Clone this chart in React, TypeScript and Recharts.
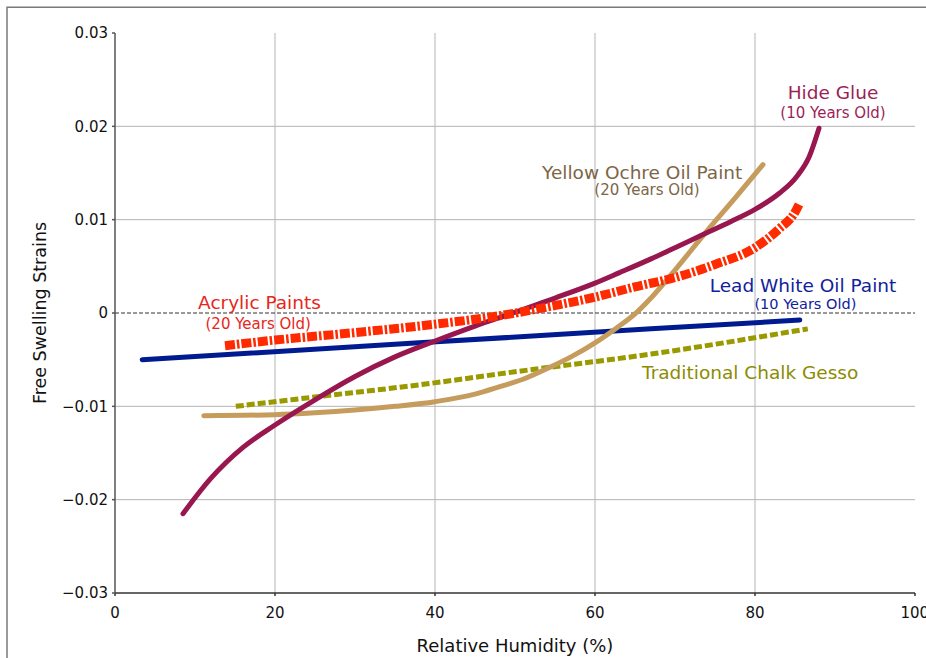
import React from "react";
import { LineChart, Line, XAxis, YAxis, ReferenceLine, ReferenceDot, ReferenceArea } from "recharts";

const xTicks = [0, 20, 40, 60, 80, 100];
const yTicks = [-0.03, -0.02, -0.01, 0, 0.01, 0.02, 0.03];
const gridX = [20, 40, 60, 80];
const gridY = [-0.02, -0.01, 0.01, 0.02];

const glueX = [8.5, 12, 16, 20, 25, 30, 35, 40, 45, 49.4, 55, 60, 63, 67, 70, 73.5, 77, 80, 83, 85.2, 86.8, 88];
const glueY = [-0.0215, -0.0177, -0.0144, -0.012, -0.0093, -0.0068, -0.0047, -0.003, -0.0014, -0.0001, 0.0016, 0.0032, 0.0043, 0.0058, 0.007, 0.0084, 0.0098, 0.0111, 0.0128, 0.0146, 0.0168, 0.0198];

const ochreX = [11.1, 20, 25, 30, 35, 40, 45, 48.1, 51, 54.4, 57, 60, 62.7, 65, 67, 70, 74, 77.5, 81];
const ochreY = [-0.011, -0.0109, -0.0107, -0.0104, -0.01, -0.0095, -0.0087, -0.0079, -0.0071, -0.0058, -0.0047, -0.0032, -0.0016, -0.0001, 0.0016, 0.0046, 0.0088, 0.0123, 0.0159];

const acrylicX = [13.75, 20, 30, 40, 48, 55, 60, 65, 70, 75, 80, 83, 85, 85.6];
const acrylicY = [-0.0035, -0.0029, -0.0021, -0.0012, -0.0003, 0.0008, 0.0017, 0.0028, 0.0038, 0.0052, 0.007, 0.009, 0.0108, 0.0118];

const leadX = [3.4, 38, 67, 85.6];
const leadY = [-0.005, -0.0032, -0.0017, -0.00075];

const gessoX = [15.1, 25, 38, 50, 67, 86.6];
const gessoY = [-0.01, -0.009, -0.0077, -0.0063, -0.0044, -0.0017];

const toRows = (xs: number[], ys: number[]) => xs.map((x, i) => ({ x, y: ys[i] }));

const FONT = "'DejaVu Sans', Verdana, sans-serif";

const annotations = [
  { x: 89.75, y: 0.0236, text: "Hide Glue", color: "#9c1f56", size: 18.5 },
  { x: 89.75, y: 0.0214, text: "(10 Years Old)", color: "#9c1f56", size: 15 },
  { x: 65.9, y: 0.0151, text: "Yellow Ochre Oil Paint", color: "#7d6645", size: 18.5 },
  { x: 66.5, y: 0.0132, text: "(20 Years Old)", color: "#7d6645", size: 15 },
  { x: 18.06, y: 0.0011, text: "Acrylic Paints", color: "#e8261a", size: 18.5 },
  { x: 17.9, y: -0.0012, text: "(20 Years Old)", color: "#e8261a", size: 15 },
  { x: 86, y: 0.0029, text: "Lead White Oil Paint", color: "#10229a", size: 18.5 },
  { x: 86.3, y: 0.00096, text: "(10 Years Old)", color: "#10229a", size: 14.5 },
  { x: 79.4, y: -0.0064, text: "Traditional Chalk Gesso", color: "#8c8c00", size: 18.5 },
];

// outer figure frame (drawn in data units so it shares the chart's scales)
const frame = { x1: -13.5, x2: 140, y1: -0.08, y2: 0.03275 };

const fmtY = (v: number) => (v === 0 ? "0" : (v < 0 ? "\u2212" : "") + Math.abs(v).toFixed(2));

const tickStyle = { fill: "#111", fontSize: 15, fontFamily: FONT };

export default function App() {
  return (
    <div style={{ position: "absolute", left: 0, top: 0, width: 926, height: 658, overflow: "hidden", background: "#fff" }}>
      <LineChart width={926} height={658} margin={{ top: 33, right: 11, bottom: 35, left: 15 }}>
        <XAxis
          type="number"
          dataKey="x"
          domain={[0, 100]}
          ticks={xTicks}
          allowDataOverflow
          stroke="#333"
          strokeWidth={1.5}
          tickSize={3}
          tickMargin={11}
          tick={tickStyle}
          height={30}
          label={{
            content: (p: any) => {
              const vb = p.viewBox || { x: 115, y: 593, width: 800 };
              return (
                <text x={vb.x + vb.width / 2} y={vb.y + 52} textAnchor="middle" dominantBaseline="central" fontFamily={FONT} fontSize={18} fill="#111">
                  Relative Humidity (%)
                </text>
              );
            },
          }}
        />
        <XAxis
          xAxisId="top"
          orientation="top"
          type="number"
          dataKey="x"
          domain={[0, 100]}
          ticks={xTicks}
          stroke="#444"
          strokeWidth={1.5}
          tickSize={3}
          tickFormatter={() => ""}
          height={0}
        />
        <YAxis
          type="number"
          dataKey="y"
          domain={[-0.03, 0.03]}
          ticks={yTicks}
          allowDataOverflow
          stroke="#555"
          strokeWidth={1.5}
          tickSize={3}
          tickMargin={4}
          tick={tickStyle}
          tickFormatter={fmtY}
          width={100}
          label={{
            content: (p: any) => {
              const vb = p.viewBox || { x: 15, y: 33, height: 560 };
              const cx = vb.x + 25;
              const cy = vb.y + vb.height / 2;
              return (
                <text x={cx} y={cy} transform={`rotate(-90 ${cx} ${cy})`} textAnchor="middle" dominantBaseline="central" fontFamily={FONT} fontSize={17.5} fill="#111">
                  Free Swelling Strains
                </text>
              );
            },
          }}
        />
        <YAxis
          yAxisId="right"
          orientation="right"
          type="number"
          domain={[-0.03, 0.03]}
          ticks={yTicks}
          stroke="#111"
          strokeWidth={1.5}
          tickSize={3}
          tickFormatter={() => ""}
          width={0}
        />
        <ReferenceArea
          x1={frame.x1}
          x2={frame.x2}
          y1={frame.y1}
          y2={frame.y2}
          ifOverflow="visible"
          fill="none"
          fillOpacity={0}
          stroke="#7a7a7a"
          strokeWidth={1.5}
        />
        {gridX.map((v) => (
          <ReferenceLine key={"gx" + v} x={v} stroke="#b4b4b4" strokeWidth={1} />
        ))}
        {gridY.map((v) => (
          <ReferenceLine key={"gy" + v} y={v} stroke="#b4b4b4" strokeWidth={1} />
        ))}
        <ReferenceLine y={0} stroke="#333" strokeWidth={1} strokeDasharray="4 2" />

        <Line
          data={toRows(gessoX, gessoY)}
          dataKey="y"
          type="monotone"
          stroke="#999900"
          strokeWidth={5}
          strokeDasharray="8 3"
          dot={false}
          isAnimationActive={false}
        />
        <Line
          data={toRows(leadX, leadY)}
          dataKey="y"
          type="linear"
          stroke="#001a8f"
          strokeWidth={5}
          strokeLinecap="round"
          dot={false}
          isAnimationActive={false}
        />
        <Line
          data={toRows(ochreX, ochreY)}
          dataKey="y"
          type="monotone"
          stroke="#c69c5d"
          strokeWidth={5}
          strokeLinecap="round"
          dot={false}
          isAnimationActive={false}
        />
        <Line
          data={toRows(glueX, glueY)}
          dataKey="y"
          type="monotone"
          stroke="#98174f"
          strokeWidth={5}
          strokeLinecap="round"
          dot={false}
          isAnimationActive={false}
        />
        <Line
          data={toRows(acrylicX, acrylicY)}
          dataKey="y"
          type="monotone"
          stroke="#ff2a00"
          strokeWidth={9}
          strokeDasharray="10 2 2.5 2"
          dot={false}
          isAnimationActive={false}
        />

        {annotations.map((a, i) => (
          <ReferenceDot
            key={"an" + i}
            x={a.x}
            y={a.y}
            r={0}
            ifOverflow="visible"
            shape={(p: any) => (
              <text x={p.cx} y={p.cy} textAnchor="middle" dominantBaseline="central" fontFamily={FONT} fontSize={a.size} fill={a.color}>
                {a.text}
              </text>
            )}
          />
        ))}
      </LineChart>
    </div>
  );
}
